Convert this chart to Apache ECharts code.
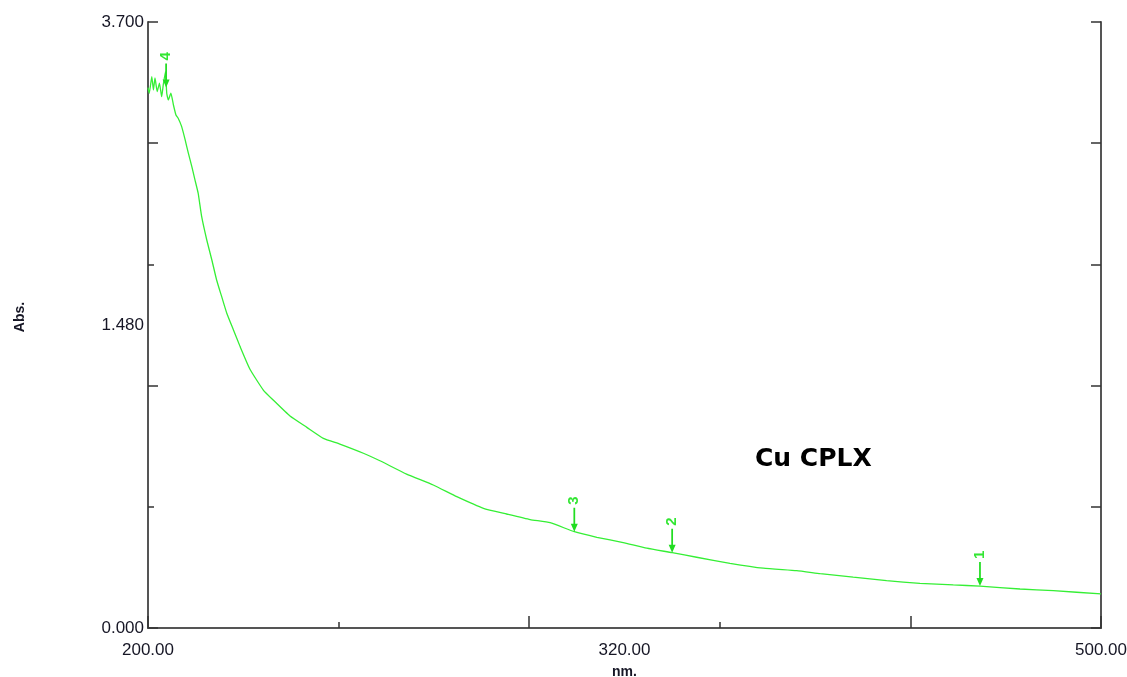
<!DOCTYPE html>
<html>
<head>
<meta charset="utf-8">
<title>Cu CPLX spectrum</title>
<script src="https://cdn.jsdelivr.net/npm/echarts@6/dist/echarts.min.js"></script>
<style>
  html, body { margin: 0; padding: 0; background: #fff; }
  #chart { width: 1127px; height: 677px; }
</style>
</head>
<body>
<div id="chart"></div>
<script>
// Spectrum (nm, Abs.)
const wavelength = [
  200.0, 200.4, 201.2, 201.7, 202.2, 202.9, 203.6, 204.3, 204.8, 205.5,
  205.9, 206.4, 207.2, 208.0, 208.8, 209.5, 210.6, 211.7, 212.7, 213.8,
  214.8, 215.8, 216.9, 218.5, 220.1, 221.6, 223.2, 224.8, 226.9, 229.0,
  232.1, 236.3, 239.4, 244.7, 250.0, 255.2, 260.4, 267.8,
  273.0, 281.4, 289.8, 297.2, 305.6, 312.9, 320.3, 326.6, 334.2, 341.3,
  349.6, 357.0, 365.0, 372.7, 383.2, 393.7, 404.2, 411.6, 422.0, 432.5,
  443.0, 453.5, 461.9, 474.5, 485.0, 500.0
];
const absorbance = [
  3.300, 3.265, 3.367, 3.285, 3.358, 3.275, 3.326, 3.244, 3.316, 3.397,
  3.265, 3.224, 3.265, 3.194, 3.132, 3.112, 3.061, 2.980, 2.899, 2.817,
  2.735, 2.654, 2.511, 2.369, 2.247, 2.125, 2.023, 1.922, 1.820, 1.718,
  1.580, 1.453, 1.392, 1.294, 1.225, 1.158, 1.123, 1.067,
  1.021, 0.940, 0.873, 0.802, 0.731, 0.696, 0.662, 0.643, 0.588, 0.554,
  0.521, 0.487, 0.460, 0.432, 0.395, 0.365, 0.350, 0.332, 0.310, 0.289,
  0.273, 0.263, 0.256, 0.238, 0.228, 0.208
];

// Peak pick markers
const peakNames = ['4', '3', '2', '1'];
const peakWavelength = [205.7, 334.2, 365.0, 461.9];
const peakAbs = [3.30, 0.588, 0.460, 0.256];

// Axis text as printed
const xTickLabels = ['200.00', '320.00', '500.00'];
const yTickLabels = ['0.000', '1.480', '3.700'];

const green = '#35ef35';
const frame = '#555';
const tickColor = '#333';
const textColor = '#161625';
const font = 'Liberation Sans, Arial, sans-serif';

const chart = echarts.init(document.getElementById('chart'));

const baseX = { type: 'value', min: 200, max: 500, splitLine: { show: false } };
const baseY = { type: 'value', min: 0, max: 3.7, splitLine: { show: false } };

chart.setOption({
  animation: false,
  backgroundColor: '#fff',
  grid: { left: 148, top: 22, right: 26, bottom: 49, containLabel: false, outerBoundsMode: 'none' },
  xAxis: [
    Object.assign({}, baseX, {
      position: 'bottom', interval: 60,
      axisLine: { show: true, lineStyle: { color: frame, width: 2 } },
      axisTick: { show: true, inside: true, length: 6, lineStyle: { color: tickColor, width: 1.5 } },
      axisLabel: { show: false },
    }),
    Object.assign({}, baseX, {
      position: 'bottom', interval: 120,
      axisLine: { show: false },
      axisTick: { show: true, inside: true, length: 12, lineStyle: { color: tickColor, width: 1.5 } },
      axisLabel: { show: false },
    }),
    Object.assign({}, baseX, {
      position: 'bottom', interval: 150,
      axisLine: { show: false },
      axisTick: { show: false },
      axisLabel: {
        show: true, showMinLabel: true, showMaxLabel: true, margin: 14,
        color: textColor, fontFamily: font, fontSize: 17,
        formatter: (v, i) => xTickLabels[i] || '',
      },
      name: 'nm.', nameLocation: 'middle', nameGap: 37,
      nameTextStyle: { color: textColor, fontFamily: font, fontSize: 14, fontWeight: 'bold' },
    }),
    Object.assign({}, baseX, {
      position: 'top',
      axisLine: { show: true, lineStyle: { color: frame, width: 2 } },
      axisTick: { show: false },
      axisLabel: { show: false },
    }),
  ],
  yAxis: [
    Object.assign({}, baseY, {
      position: 'left', interval: 0.74,
      axisLine: { show: true, lineStyle: { color: frame, width: 2 } },
      axisTick: { show: true, inside: true, length: 6, lineStyle: { color: tickColor, width: 1.5 } },
      axisLabel: { show: false },
    }),
    Object.assign({}, baseY, {
      position: 'left', interval: 1.48,
      axisLine: { show: false },
      axisTick: { show: true, inside: true, length: 10, lineStyle: { color: tickColor, width: 1.5 } },
      axisLabel: { show: false },
    }),
    Object.assign({}, baseY, {
      position: 'left', interval: 1.85,
      axisLine: { show: false },
      axisTick: { show: false },
      axisLabel: {
        show: true, showMinLabel: true, showMaxLabel: true, margin: 4,
        color: textColor, fontFamily: font, fontSize: 17,
        formatter: (v, i) => yTickLabels[i] || '',
      },
      name: 'Abs.', nameLocation: 'middle', nameGap: 121, nameRotate: 90,
      nameTextStyle: { color: textColor, fontFamily: font, fontSize: 14, fontWeight: 'bold', padding: [0, 0, 0, 16] },
    }),
    Object.assign({}, baseY, {
      position: 'right', interval: 0.74,
      axisLine: { show: true, lineStyle: { color: frame, width: 2 } },
      axisTick: { show: true, inside: true, length: 10, lineStyle: { color: tickColor, width: 1.5 } },
      axisLabel: { show: false },
    }),
  ],
  graphic: [{
    type: 'text', left: 755, top: 447,
    style: { text: 'Cu CPLX', fill: '#000', font: 'bold 25px DejaVu Sans, sans-serif' },
  }],
  series: [{
    type: 'line',
    xAxisIndex: 0,
    yAxisIndex: 0,
    data: wavelength.map((w, i) => [w, absorbance[i]]),
    showSymbol: false,
    smooth: 0.15,
    lineStyle: { color: green, width: 1.3 },
    markPoint: {
      symbol: 'path://M3,0 L5,0 L5,16 L8,16 L4,24 L0,16 L3,16 Z',
      symbolSize: [7, 24],
      symbolOffset: [0, -12],
      itemStyle: { color: '#22dd22' },
      label: {
        show: true, position: 'top', distance: 3, rotate: 90,
        align: 'left', verticalAlign: 'middle',
        color: '#33e633', fontFamily: font, fontSize: 15, fontWeight: 'bold',
        formatter: '{b}',
      },
      data: peakNames.map((n, i) => ({ name: n, coord: [peakWavelength[i], peakAbs[i]] })),
    },
  }],
});
</script>
</body>
</html>
